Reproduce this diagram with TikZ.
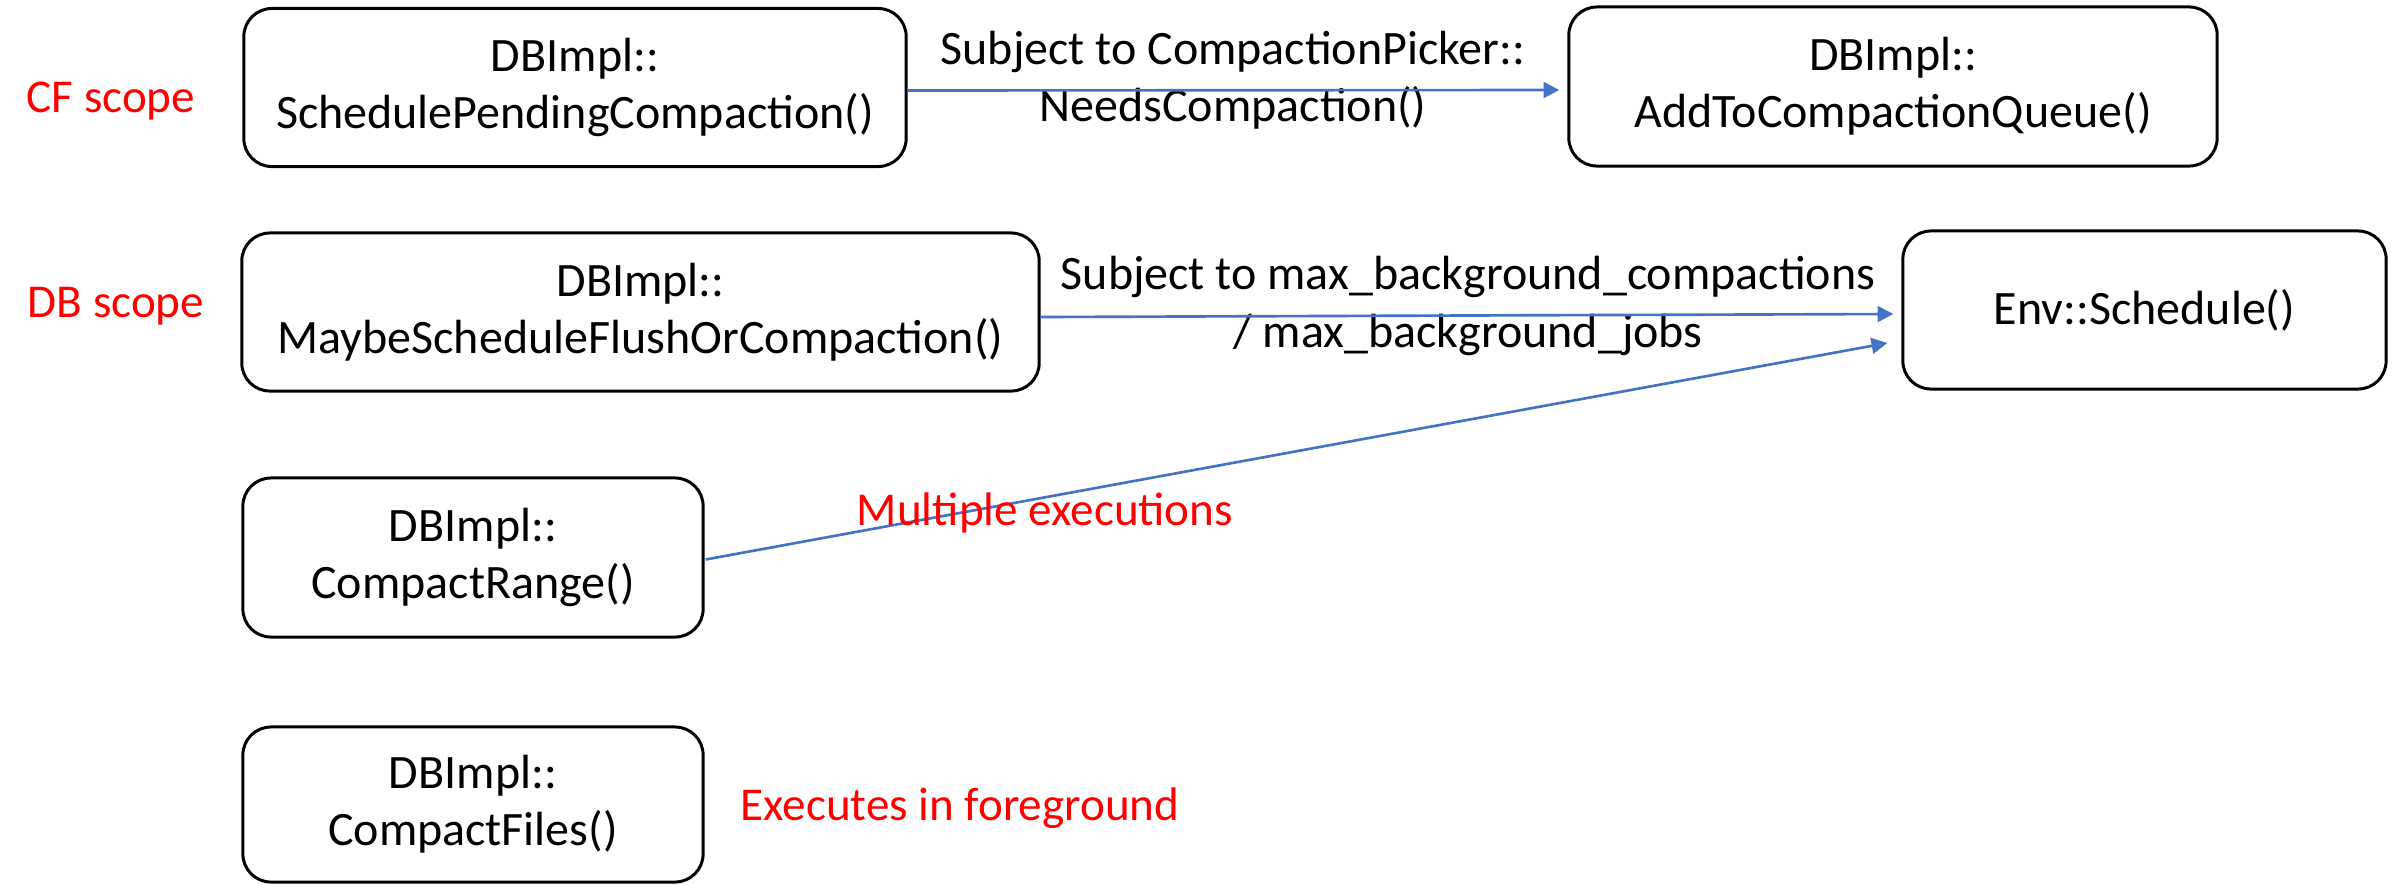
\documentclass[tikz,border=0pt]{standalone}
\usepackage{fontspec}
\setmainfont{Carlito}
\usetikzlibrary{calc,arrows.meta}
\definecolor{arrowblue}{HTML}{4472C4}
\definecolor{labelred}{HTML}{FF0000}
\begin{document}
\begin{tikzpicture}[x=0.01cm,y=-0.01cm,
  box/.style={draw=black,line width=0.85pt,rounded corners=8pt,align=center,
    font=\fontsize{13.65}{16.3}\selectfont,inner sep=0pt},
  redlab/.style={text=labelred,font=\fontsize{13.4}{16}\selectfont,inner sep=0pt},
  lab/.style={align=center,font=\fontsize{13.65}{16.3}\selectfont,inner sep=0pt},
  arr/.style={draw=arrowblue,line width=0.75pt,-{Triangle[length=4.5pt,width=4.5pt]}}]
\useasboundingbox (0,0) rectangle (2399,884);
\fill[white] (0,0) rectangle (2399,884);

\node[box,minimum width=6.62cm,minimum height=1.58cm] (b1) at (575,87.5) {DBImpl::\\SchedulePendingCompaction()};
\node[box,minimum width=6.48cm,minimum height=1.59cm] (b2) at (1893,86.5) {DBImpl::\\AddToCompactionQueue()};
\node[box,minimum width=7.97cm,minimum height=1.58cm] (b3) at (640.5,312) {DBImpl::\\MaybeScheduleFlushOrCompaction()};
\node[box,minimum width=4.83cm,minimum height=1.58cm] (b4) at (2144.5,310) {Env::Schedule()};
\node[box,minimum width=4.60cm,minimum height=1.59cm] (b5) at (473,557.5) {DBImpl::\\CompactRange()};
\node[box,minimum width=4.60cm,minimum height=1.55cm] (b6) at (473,804.5) {DBImpl::\\CompactFiles()};

\node[redlab] (cf) at (111,101) {CF scope};
\node[redlab] (db) at (116,306) {DB scope};
\node[redlab] (fg) at (960,808) {Executes in foreground};

\node[lab] (l1) at (1233,80) {Subject to CompactionPicker::\\NeedsCompaction()};
\node[lab] (l2) at (1468,306) {Subject to max\_background\_compactions\\/ max\_background\_jobs};

\draw[arr] ($(b1.east)+(0,3)$) -- ($(b2.west)+(-8,3.5)$);
\draw[arr] ($(b3.east)+(0,5)$) -- ($(b4.west)+(-8,4)$);
\draw[arr] ($(b5.east)+(1,2)$) -- ($(b4.west)+(-14,33)$);

\node[redlab] (me) at (1045,513) {Multiple executions};
\end{tikzpicture}
\end{document}
